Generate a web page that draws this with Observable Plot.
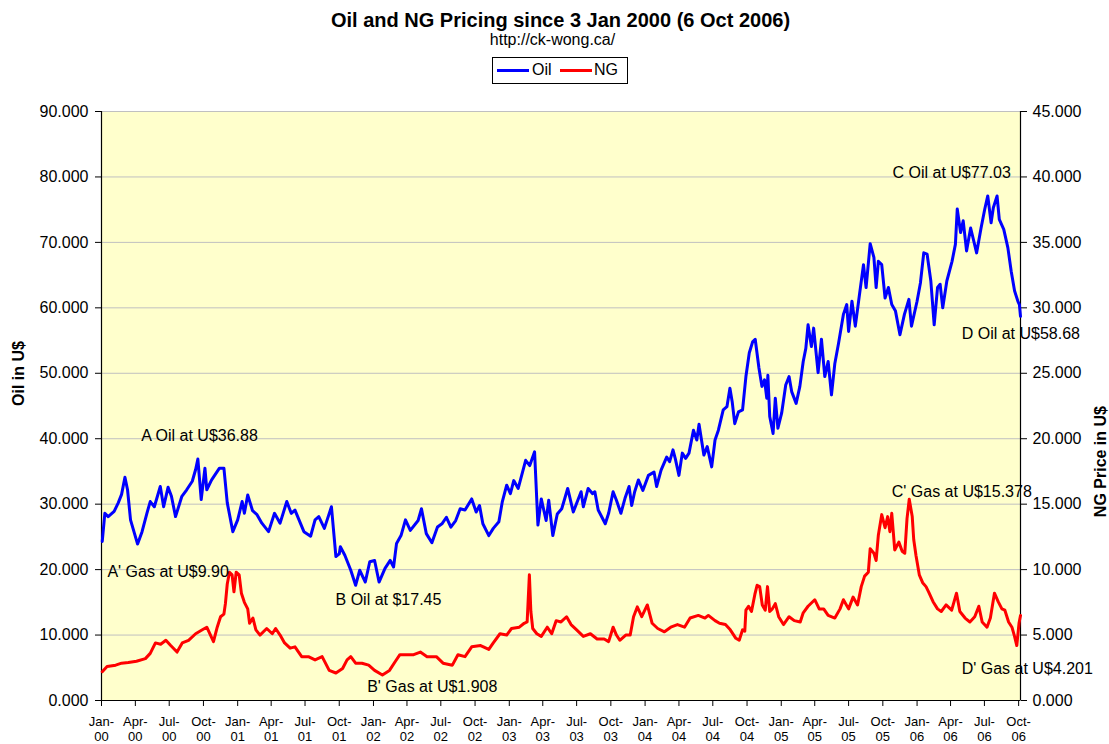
<!DOCTYPE html>
<html>
<head>
<meta charset="utf-8">
<script src="https://cdn.jsdelivr.net/npm/d3@7"></script>
<script src="https://cdn.jsdelivr.net/npm/@observablehq/plot@0.6"></script>
<style>
  body { margin: 0; background: #fff; font-family: "Liberation Sans", Arial, sans-serif; color: #000; }
  #wrap { position: relative; width: 1109px; height: 744px; overflow: hidden; }
  #header { position: relative; width: 1109px; height: 90px; }
  #title { position: absolute; left: 0; width: 1121px; top: 10px; text-align: center; font-size: 20px; line-height: 20px; font-weight: bold; white-space: nowrap; }
  #sub { position: absolute; left: 0; width: 1105px; top: 32px; text-align: center; font-size: 16px; line-height: 16px; white-space: nowrap; }
  #legend { position: absolute; left: 492px; top: 57px; width: 136px; height: 27px; box-sizing: border-box; border: 1px solid #000; background: #fff; }
  .sw { position: absolute; top: 11px; width: 32px; height: 3px; }
  .lt { position: absolute; top: 4px; font-size: 16px; line-height: 16px; }
  #chart svg { display: block; }
</style>
</head>
<body>
<div id="wrap">
  <div id="header">
    <div id="title">Oil and NG Pricing since 3 Jan 2000 (6 Oct 2006)</div>
    <div id="sub">http://ck-wong.ca/</div>
    <div id="legend"></div>
  </div>
  <div id="chart"></div>
</div>
<script>
// ---- data ----
const seriesNames = ["Oil", "NG"];
const seriesColors = ["#0000FF", "#FF0000"];

const oilDates = ["2000-01-03","2000-01-10","2000-01-19","2000-02-04","2000-02-15","2000-02-24","2000-03-04","2000-03-11","2000-03-19","2000-04-07","2000-04-19","2000-05-02","2000-05-11","2000-05-22","2000-06-07","2000-06-16","2000-06-28","2000-07-07","2000-07-18","2000-08-04","2000-08-17","2000-09-01","2000-09-10","2000-09-16","2000-09-25","2000-10-05","2000-10-10","2000-10-23","2000-11-13","2000-11-25","2000-12-04","2000-12-19","2001-01-01","2001-01-13","2001-01-19","2001-01-28","2001-02-10","2001-02-22","2001-03-07","2001-03-25","2001-04-10","2001-04-25","2001-05-13","2001-05-25","2001-06-04","2001-06-28","2001-07-16","2001-07-28","2001-08-07","2001-08-22","2001-09-10","2001-09-22","2001-10-01","2001-10-04","2001-10-16","2001-11-01","2001-11-14","2001-11-25","2001-12-10","2001-12-22","2002-01-04","2002-01-16","2002-02-01","2002-02-15","2002-02-24","2002-03-04","2002-03-16","2002-03-28","2002-04-10","2002-05-01","2002-05-10","2002-05-23","2002-06-07","2002-06-22","2002-07-04","2002-07-16","2002-07-28","2002-08-10","2002-08-22","2002-09-04","2002-09-22","2002-10-04","2002-10-13","2002-10-22","2002-11-07","2002-11-19","2002-12-04","2002-12-13","2002-12-25","2003-01-04","2003-01-13","2003-01-25","2003-02-14","2003-02-25","2003-03-10","2003-03-19","2003-03-28","2003-04-10","2003-04-17","2003-04-28","2003-05-10","2003-05-22","2003-06-07","2003-06-22","2003-07-13","2003-07-19","2003-08-01","2003-08-13","2003-08-19","2003-08-28","2003-09-16","2003-09-25","2003-10-07","2003-10-16","2003-10-28","2003-11-08","2003-11-19","2003-11-26","2003-12-04","2003-12-14","2003-12-26","2004-01-10","2004-01-25","2004-02-01","2004-02-13","2004-02-28","2004-03-07","2004-03-16","2004-03-22","2004-04-01","2004-04-10","2004-04-19","2004-04-28","2004-05-10","2004-05-19","2004-05-25","2004-06-07","2004-06-16","2004-06-28","2004-07-07","2004-07-16","2004-07-29","2004-08-08","2004-08-16","2004-08-22","2004-08-29","2004-09-08","2004-09-19","2004-09-28","2004-10-07","2004-10-16","2004-10-23","2004-11-02","2004-11-10","2004-11-17","2004-11-23","2004-11-26","2004-12-01","2004-12-10","2004-12-16","2004-12-23","2005-01-02","2005-01-13","2005-01-22","2005-01-29","2005-02-10","2005-02-20","2005-03-01","2005-03-08","2005-03-14","2005-03-23","2005-03-29","2005-04-10","2005-04-19","2005-04-28","2005-05-07","2005-05-16","2005-05-25","2005-06-04","2005-06-17","2005-06-26","2005-07-01","2005-07-10","2005-07-19","2005-07-29","2005-08-10","2005-08-17","2005-08-28","2005-09-07","2005-09-13","2005-09-19","2005-09-28","2005-10-07","2005-10-16","2005-10-25","2005-11-04","2005-11-16","2005-11-28","2005-12-10","2005-12-17","2006-01-01","2006-01-10","2006-01-19","2006-01-28","2006-02-07","2006-02-16","2006-02-25","2006-03-04","2006-03-11","2006-03-22","2006-04-05","2006-04-14","2006-04-19","2006-04-28","2006-05-05","2006-05-14","2006-05-25","2006-06-10","2006-06-22","2006-07-02","2006-07-10","2006-07-19","2006-07-25","2006-08-04","2006-08-10","2006-08-22","2006-09-02","2006-09-11","2006-09-20","2006-09-29","2006-10-03","2006-10-06"];
const oilPrices = [24.3,28.6,28.1,28.9,30.2,31.5,34.1,32.2,27.6,23.9,25.8,28.6,30.4,29.6,32.7,29.6,32.6,31.2,28.1,31.2,32.2,33.5,35.3,36.9,30.7,35.5,32.2,33.7,35.5,35.5,30.2,25.8,27.6,30.4,28.6,31.4,29.0,28.4,27.1,25.8,28.6,27.1,30.4,28.6,29.1,25.8,25.1,27.6,28.1,26.3,29.6,22.0,22.4,23.5,22.2,19.9,17.6,19.9,18.1,21.2,21.4,18.1,20.2,21.4,20.4,24.0,25.2,27.6,26.0,27.5,29.3,25.5,24.1,26.5,27.0,28.0,26.5,27.5,29.3,29.1,30.8,28.8,29.8,27.0,25.2,26.3,27.3,30.3,32.9,31.6,33.6,32.4,36.7,35.9,38.0,26.8,30.8,27.5,30.6,25.2,28.5,29.3,32.4,28.8,31.9,29.6,32.4,31.6,31.9,29.1,27.0,28.6,31.9,30.6,28.6,30.9,32.7,29.8,31.9,33.7,32.1,34.4,34.9,32.7,35.2,37.2,36.5,38.3,37.0,34.4,37.8,37.0,37.8,41.3,39.8,42.2,37.5,38.8,35.7,39.8,41.3,44.4,44.9,47.7,45.7,42.3,44.1,44.4,49.5,53.1,54.8,55.2,50.8,48.0,49.0,46.2,49.7,43.4,40.8,46.2,41.6,43.9,48.2,49.5,47.2,45.4,48.0,51.8,53.8,57.4,54.1,56.9,50.1,55.2,49.5,51.8,46.7,51.5,54.6,59.0,60.5,56.4,61.0,57.2,61.5,66.6,63.1,69.8,67.7,63.1,67.1,66.6,61.5,63.1,60.5,59.5,55.9,59.0,61.3,57.2,61.0,63.8,68.4,68.2,64.1,57.4,63.1,63.6,60.0,64.1,67.1,69.7,75.1,71.5,73.3,68.7,72.2,68.4,72.2,75.1,77.1,73.0,75.3,77.1,73.5,72.0,69.2,65.6,62.6,61.0,60.5,58.7];

const ngDates = ["2000-01-03","2000-01-16","2000-02-08","2000-02-24","2000-03-13","2000-04-04","2000-04-28","2000-05-11","2000-05-25","2000-06-08","2000-06-22","2000-07-05","2000-07-22","2000-08-05","2000-08-22","2000-09-10","2000-09-28","2000-10-10","2000-10-28","2000-11-07","2000-11-16","2000-11-25","2000-11-29","2000-12-04","2000-12-10","2000-12-17","2000-12-22","2000-12-28","2001-01-05","2001-01-11","2001-01-19","2001-01-28","2001-02-02","2001-02-11","2001-02-19","2001-03-02","2001-03-20","2001-04-04","2001-04-13","2001-04-25","2001-05-07","2001-05-22","2001-06-04","2001-06-22","2001-07-10","2001-07-28","2001-08-16","2001-09-04","2001-09-22","2001-10-10","2001-10-22","2001-11-01","2001-11-14","2001-12-01","2001-12-19","2002-01-04","2002-01-25","2002-02-13","2002-03-01","2002-03-13","2002-04-01","2002-04-19","2002-05-07","2002-05-25","2002-06-19","2002-07-07","2002-08-01","2002-08-16","2002-09-04","2002-09-22","2002-10-16","2002-11-07","2002-11-19","2002-12-07","2002-12-25","2003-01-07","2003-01-28","2003-02-10","2003-02-18","2003-02-24","2003-02-28","2003-03-05","2003-03-16","2003-03-28","2003-04-13","2003-04-25","2003-05-07","2003-05-20","2003-06-04","2003-06-16","2003-07-01","2003-07-19","2003-08-07","2003-08-25","2003-09-13","2003-09-25","2003-10-07","2003-10-16","2003-10-25","2003-11-10","2003-11-22","2003-12-01","2003-12-11","2003-12-23","2004-01-07","2004-01-20","2004-02-04","2004-02-22","2004-03-10","2004-03-28","2004-04-16","2004-05-01","2004-05-23","2004-06-10","2004-06-19","2004-07-07","2004-07-19","2004-08-04","2004-08-17","2004-09-01","2004-09-10","2004-09-19","2004-09-25","2004-09-28","2004-10-05","2004-10-13","2004-10-22","2004-10-28","2004-11-04","2004-11-11","2004-11-19","2004-11-25","2004-12-01","2004-12-08","2004-12-16","2004-12-25","2005-01-07","2005-01-22","2005-02-05","2005-02-21","2005-03-01","2005-03-14","2005-04-01","2005-04-13","2005-04-25","2005-05-07","2005-05-25","2005-06-08","2005-06-17","2005-07-01","2005-07-13","2005-07-25","2005-08-04","2005-08-13","2005-08-23","2005-08-28","2005-09-07","2005-09-13","2005-09-19","2005-09-28","2005-10-07","2005-10-14","2005-10-20","2005-10-25","2005-11-02","2005-11-13","2005-11-22","2005-11-29","2005-12-05","2005-12-11","2005-12-19","2005-12-23","2005-12-29","2006-01-07","2006-01-16","2006-01-25","2006-02-01","2006-02-13","2006-02-25","2006-03-07","2006-03-20","2006-04-04","2006-04-17","2006-04-26","2006-05-10","2006-05-23","2006-06-05","2006-06-16","2006-06-25","2006-07-08","2006-07-17","2006-07-28","2006-08-07","2006-08-17","2006-08-25","2006-09-04","2006-09-13","2006-09-20","2006-09-26","2006-10-02","2006-10-06"];
const ngPrices = [2.2,2.6,2.7,2.85,2.9,3.0,3.2,3.6,4.4,4.3,4.6,4.2,3.7,4.4,4.6,5.1,5.4,5.6,4.5,5.6,6.4,6.6,7.4,8.9,9.8,9.6,8.3,9.8,9.6,8.2,7.5,7.0,5.9,6.3,5.4,5.0,5.5,5.1,5.5,5.0,4.4,4.0,4.1,3.35,3.35,3.1,3.35,2.3,2.1,2.45,3.1,3.35,2.85,2.85,2.7,2.3,1.95,2.3,3.0,3.5,3.5,3.5,3.7,3.35,3.35,2.85,2.7,3.5,3.35,4.1,4.2,3.9,4.4,5.1,5.0,5.5,5.6,5.9,6.0,9.6,6.8,5.5,5.1,4.9,5.6,5.1,6.1,6.0,6.4,5.8,5.4,4.9,5.1,4.7,4.7,4.5,5.6,5.0,4.6,5.0,5.0,6.4,7.15,6.4,7.3,5.9,5.5,5.25,5.6,5.8,5.6,6.3,6.5,6.3,6.5,6.1,5.9,5.8,5.4,4.75,4.6,5.4,5.3,6.9,7.2,6.8,8.1,8.8,8.7,7.3,6.9,8.7,6.8,7.0,7.4,6.4,5.8,6.4,6.1,6.0,6.7,7.2,7.7,7.0,7.0,6.5,6.3,7.0,7.7,7.0,7.9,7.3,8.7,9.5,9.8,11.6,11.25,10.7,12.65,14.2,13.2,14.05,12.9,14.3,11.5,12.1,11.4,11.25,13.9,15.38,14.05,12.3,11.1,9.6,9.0,8.7,8.3,7.55,7.0,6.8,7.3,6.9,8.2,6.8,6.3,6.0,6.4,7.2,6.0,5.6,6.3,8.2,7.55,7.0,6.9,6.0,5.6,4.9,4.2,5.9,6.5];

const noteTexts = ["A Oil at U$36.88", "A' Gas at U$9.90", "B Oil at $17.45", "B' Gas at U$1.908", "C Oil at U$77.03", "C' Gas at U$15.378", "D Oil at U$58.68", "D' Gas at U$4.201"];
const noteDates = ["2000-04-17", "2000-01-17", "2001-09-21", "2001-12-15", "2005-10-27", "2005-10-25", "2006-05-01", "2006-05-01"];
const noteValues = [40.4, 9.81, 15.4, 1.07, 80.65, 15.97, 56.05, 2.43];
const noteSeries = ["Oil", "NG", "Oil", "NG", "Oil", "NG", "Oil", "NG"];

const oilTicks = [0, 10, 20, 30, 40, 50, 60, 70, 80, 90];
const ngPerOil = 0.5; // NG axis 0..45 against Oil axis 0..90
const axisStart = "2000-01-01";
const axisEnd = "2006-10-06";
const titleLeft = "Oil in U$";
const titleRight = "NG Price in U$";

// ---- build ----
const parse = d3.utcParse("%Y-%m-%d");
const oil = oilDates.map((d, i) => ({date: parse(d), value: oilPrices[i]}));
const ng = ngDates.map((d, i) => ({date: parse(d), value: ngPrices[i]}));
const notes = noteTexts.map((t, i) => ({text: t, date: parse(noteDates[i]), value: noteSeries[i] === "NG" ? noteValues[i] / ngPerOil : noteValues[i]}));
const xDomain = [parse(axisStart), parse(axisEnd)];
const xTicks = d3.utcMonth.every(3).range(xDomain[0], xDomain[1]);
const fmt3 = d3.format(".3f");
const fmtMonth = d3.utcFormat("%b");
const fmtYear = d3.utcFormat("%y");
const FONT = "'Liberation Sans', Arial, sans-serif";

// legend
const legend = document.getElementById("legend");
const legendLayout = [{sw: 4, tx: 39}, {sw: 67, tx: 101}];
seriesNames.forEach((name, i) => {
  const sw = document.createElement("div");
  sw.className = "sw";
  sw.style.left = legendLayout[i].sw + "px";
  sw.style.background = seriesColors[i];
  legend.appendChild(sw);
  const lt = document.createElement("div");
  lt.className = "lt";
  lt.style.left = legendLayout[i].tx + "px";
  lt.textContent = name;
  legend.appendChild(lt);
});

const chart = Plot.plot({
  width: 1109,
  height: 654,
  marginTop: 21,
  marginBottom: 44,
  marginLeft: 101,
  marginRight: 89,
  style: {fontFamily: FONT, fontSize: "16px", color: "#000", background: "transparent", overflow: "visible"},
  x: {type: "utc", domain: xDomain},
  y: {domain: [0, 90]},
  marks: [
    Plot.frame({fill: "#FFFFCC", stroke: "#808080"}),
    Plot.gridY(oilTicks, {stroke: "#C0C0C0", strokeOpacity: 1}),
    Plot.ruleY([0], {stroke: "#000", strokeWidth: 1.2}),
    Plot.ruleX(xDomain, {stroke: "#000", strokeWidth: 1.2}),
    Plot.axisY(oilTicks, {anchor: "left", tickFormat: fmt3, tickSize: 6, tickPadding: 7, fontSize: 16, label: null}),
    Plot.axisY(oilTicks, {anchor: "right", tickFormat: d => fmt3(d * ngPerOil), tickSize: 6, tickPadding: 6, fontSize: 16, label: null}),
    Plot.axisX(xTicks, {anchor: "bottom", tickFormat: d => fmtMonth(d) + "-\n" + fmtYear(d), tickSize: 6, tickPadding: 8, fontSize: 13, lineHeight: 1.2, label: null}),
    Plot.lineY(oil, {x: "date", y: "value", stroke: seriesColors[0], strokeWidth: 3, strokeLinejoin: "round"}),
    Plot.lineY(ng, {x: "date", y: d => d.value / ngPerOil, stroke: seriesColors[1], strokeWidth: 3, strokeLinejoin: "round"}),
    Plot.text(notes, {x: "date", y: "value", text: "text", textAnchor: "start", fontSize: 16, fill: "#000"}),
    Plot.text([titleLeft], {frameAnchor: "left", rotate: -90, dx: -83, fontSize: 16, fontWeight: "bold", fill: "#000"}),
    Plot.text([titleRight], {frameAnchor: "right", rotate: -90, dx: 80, fontSize: 16, fontWeight: "bold", fill: "#000"})
  ]
});
document.getElementById("chart").appendChild(chart);
</script>
</body>
</html>
